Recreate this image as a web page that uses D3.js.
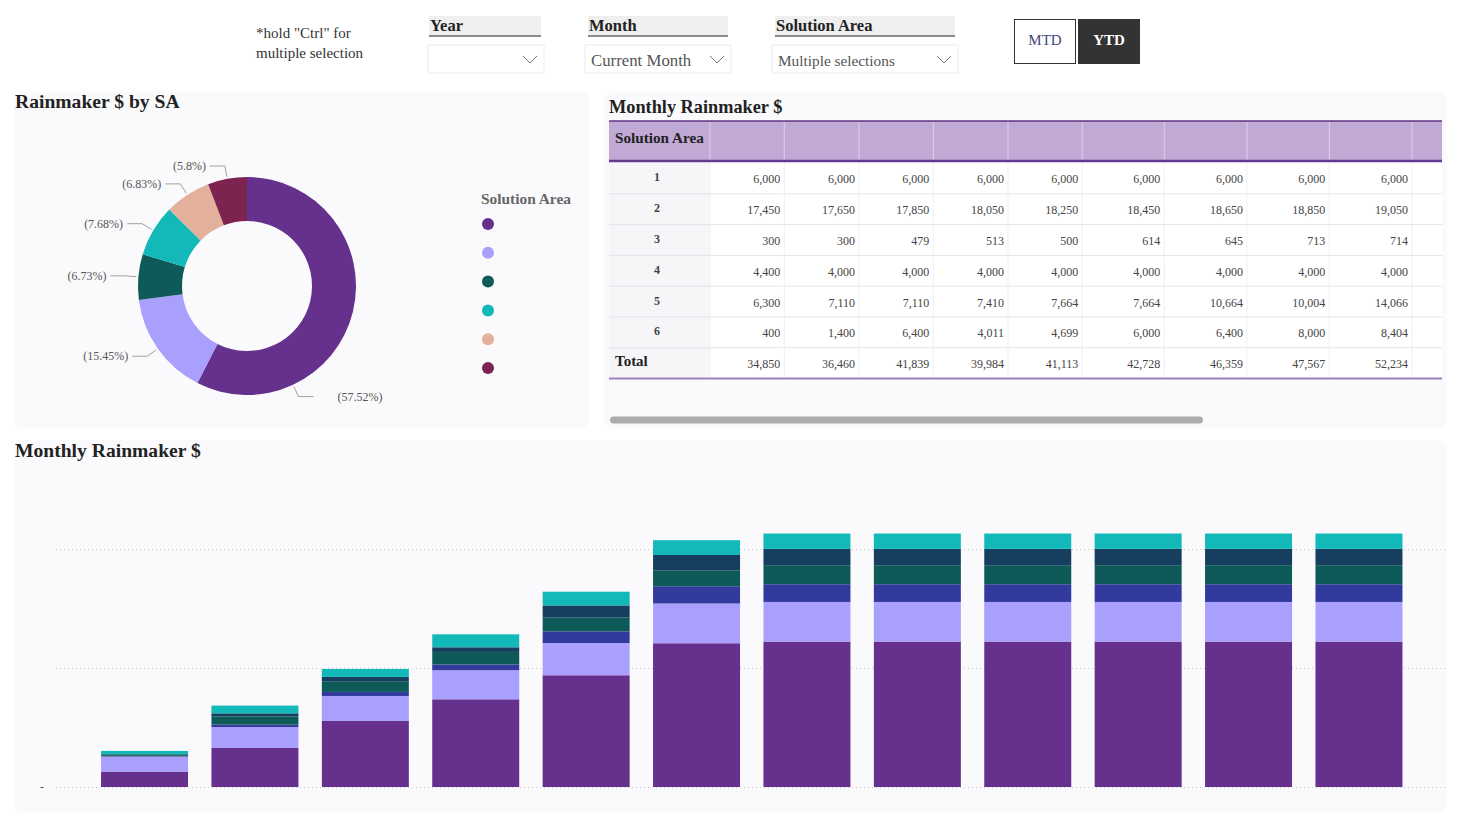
<!DOCTYPE html>
<html>
<head>
<meta charset="utf-8">
<script src="https://cdn.jsdelivr.net/npm/d3@7"></script>
<style>
  body { margin: 0; background: #fff; }
  svg text { font-family: "Liberation Serif", "DejaVu Serif", serif; }
</style>
</head>
<body>
<div id="chart"></div>
<script>
// ---- data ----
var donutShares = [57.52, 15.45, 6.73, 7.68, 6.83, 5.8];
var donutColors = ["#65318c", "#a99ffc", "#0e5a58", "#13b8b8", "#e3b09c", "#7d2350"];

var tableRowLabels = ["1", "2", "3", "4", "5", "6"];
var sa1 = [6000, 6000, 6000, 6000, 6000, 6000, 6000, 6000, 6000];
var sa2 = [17450, 17650, 17850, 18050, 18250, 18450, 18650, 18850, 19050];
var sa3 = [300, 300, 479, 513, 500, 614, 645, 713, 714];
var sa4 = [4400, 4000, 4000, 4000, 4000, 4000, 4000, 4000, 4000];
var sa5 = [6300, 7110, 7110, 7410, 7664, 7664, 10664, 10004, 14066];
var sa6 = [400, 1400, 6400, 4011, 4699, 6000, 6400, 8000, 8404];

// stacked YTD bars (no axis labels in the source, units are relative)
var months = ["1", "2", "3", "4", "5", "6", "7", "8", "9", "10", "11", "12"];
var barSA1 = [12.9, 32.8, 55.5, 73.7, 93.9, 120.8, 122.2, 122.2, 122.2, 122.2, 122.2, 122.2];
var barSA2 = [12.6, 17.6, 21.0, 24.4, 27.1, 33.4, 33.3, 33.3, 33.3, 33.3, 33.3, 33.3];
var barSA3 = [0.3, 2.0, 3.4, 4.8, 9.8, 14.5, 14.9, 14.9, 14.9, 14.9, 14.9, 14.9];
var barSA4 = [1.0, 7.0, 9.0, 10.6, 11.5, 13.4, 16.0, 16.0, 16.0, 16.0, 16.0, 16.0];
var barSA5 = [0.7, 2.5, 3.6, 3.9, 10.3, 12.9, 13.7, 13.7, 13.7, 13.7, 13.7, 13.7];
var barSA6 = [2.8, 6.5, 6.7, 10.9, 11.5, 12.4, 12.9, 12.9, 12.9, 12.9, 12.9, 12.9];
var barColors = ["#65318c", "#a99ffc", "#333a9e", "#0e5a58", "#163f5f", "#13b8b8"];
var yTicks = [0, 100, 200];
var yTickLabels = ["-", "", ""];

var W = 1460, H = 827;
var svg = d3.select("#chart").append("svg")
  .attr("width", W).attr("height", H);

// ---- panels ----
svg.append("rect").attr("x", 14).attr("y", 92).attr("width", 575).attr("height", 336)
  .attr("rx", 8).attr("fill", "#fafafc");
svg.append("rect").attr("x", 604).attr("y", 92).attr("width", 843).attr("height", 336)
  .attr("rx", 8).attr("fill", "#fafafc");
svg.append("rect").attr("x", 14).attr("y", 440).attr("width", 1433).attr("height", 372)
  .attr("rx", 8).attr("fill", "#fafafc");

// ---- slicers on top ----
svg.append("text").attr("x", 256).attr("y", 38).style("font-size", "15px").attr("fill", "#333")
  .text('*hold "Ctrl" for');
svg.append("text").attr("x", 256).attr("y", 58).style("font-size", "15px").attr("fill", "#333")
  .text("multiple selection");

var slicers = [
  {title: "Year", hx: 429, hw: 112, bx: 428, bw: 116, value: "", fs: 16.8},
  {title: "Month", hx: 588, hw: 140, bx: 585, bw: 146, value: "Current Month", fs: 16.8},
  {title: "Solution Area", hx: 775, hw: 180, bx: 772, bw: 186, value: "Multiple selections", fs: 15.3}
];
var sl = svg.selectAll(".slicer").data(slicers).enter().append("g").attr("class", "slicer");
sl.append("rect").attr("x", d => d.hx).attr("y", 16).attr("width", d => d.hw).attr("height", 19)
  .attr("fill", "#efefef");
sl.append("line").attr("x1", d => d.hx).attr("x2", d => d.hx + d.hw).attr("y1", 36).attr("y2", 36)
  .attr("stroke", "#666").attr("stroke-width", 1.5);
sl.append("text").attr("x", d => d.hx + 1).attr("y", 31).style("font-size", "16.5px")
  .style("font-weight", "bold").attr("fill", "#222").text(d => d.title);
sl.append("rect").attr("x", d => d.bx).attr("y", 45).attr("width", d => d.bw).attr("height", 28)
  .attr("fill", "#fff").attr("stroke", "#ececec");
sl.append("text").attr("x", d => d.bx + 6).attr("y", 66).style("font-size", d => d.fs + "px")
  .attr("fill", "#555").text(d => d.value);
sl.append("polyline")
  .attr("points", d => {
    var cx = d.bx + d.bw - 14;
    return (cx - 7) + ",56 " + cx + ",63 " + (cx + 7) + ",56";
  })
  .attr("fill", "none").attr("stroke", "#777").attr("stroke-width", 1);

svg.append("rect").attr("x", 1014.5).attr("y", 19.5).attr("width", 61).attr("height", 44)
  .attr("fill", "#fff").attr("stroke", "#333");
svg.append("text").attr("x", 1045).attr("y", 45).attr("text-anchor", "middle")
  .style("font-size", "15px").attr("fill", "#3d4a7c").text("MTD");
svg.append("rect").attr("x", 1078).attr("y", 19).attr("width", 62).attr("height", 45)
  .attr("fill", "#333");
svg.append("text").attr("x", 1109).attr("y", 45).attr("text-anchor", "middle")
  .style("font-size", "15px").style("font-weight", "bold").attr("fill", "#fff").text("YTD");

// ---- donut ----
svg.append("text").attr("x", 15).attr("y", 108).style("font-size", "19.6px")
  .style("font-weight", "bold").attr("fill", "#222").text("Rainmaker $ by SA");

var cx = 247, cy = 286, rOut = 109, rIn = 65;
var pie = d3.pie().sort(null).value(d => d)(donutShares);
var arc = d3.arc().innerRadius(rIn).outerRadius(rOut);
var dg = svg.append("g").attr("transform", `translate(${cx},${cy})`);
dg.selectAll("path").data(pie).enter().append("path")
  .attr("d", arc).attr("fill", (d, i) => donutColors[i]);

// Power BI pushes the big slice's label to the bottom
var labelAngle = {0: 155 * Math.PI / 180};
pie.forEach(function(d, i) {
  var a = labelAngle[i] !== undefined ? labelAngle[i] : (d.startAngle + d.endAngle) / 2;
  var p0 = [Math.sin(a) * 111, -Math.cos(a) * 111];
  var p1 = [Math.sin(a) * 122, -Math.cos(a) * 122];
  var right = Math.sin(a) > 0;
  var p2 = [p1[0] + (right ? 15 : -15), p1[1]];
  dg.append("polyline")
    .attr("points", [p0, p1, p2].map(p => p.join(",")).join(" "))
    .attr("fill", "none").attr("stroke", "#a0a0a0").attr("stroke-width", 1);
  dg.append("text")
    .attr("x", p2[0] + (right ? 24 : -4)).attr("y", p2[1] + 4)
    .attr("text-anchor", right ? "start" : "end")
    .style("font-size", "12px").attr("fill", "#555")
    .text("(" + d.data + "%)");
});

// legend (names are blank in the source)
svg.append("text").attr("x", 481).attr("y", 204).style("font-size", "15.4px")
  .style("font-weight", "bold").attr("fill", "#666").text("Solution Area");
svg.selectAll(".lg").data(donutColors).enter().append("circle").attr("class", "lg")
  .attr("cx", 488).attr("cy", (d, i) => 224 + i * 28.8).attr("r", 6)
  .attr("fill", d => d);

// ---- matrix table ----
svg.append("text").attr("x", 609).attr("y", 113).style("font-size", "18.3px")
  .style("font-weight", "bold").attr("fill", "#222").text("Monthly Rainmaker $");

var rows = [sa1, sa2, sa3, sa4, sa5, sa6];
var totals = sa1.map((v, j) => d3.sum(rows, r => r[j]));
var colWidths = [74.3, 74.7, 74.3, 74.7, 74.3, 82, 82.7, 82.3, 82.7];
var colEdges = [710];
colWidths.forEach(w => colEdges.push(colEdges[colEdges.length - 1] + w));
var tX0 = 609, tX1 = 1442, hY0 = 121, hY1 = 161, rowH = 30.8;
var rowY = d3.scaleBand().domain(d3.range(7)).range([hY1 + 2, hY1 + 2 + 7 * rowH]);

var tg = svg.append("g");
tg.append("rect").attr("x", tX0).attr("y", hY1).attr("width", tX1 - tX0).attr("height", 7 * rowH + 2)
  .attr("fill", "#fff");
tg.append("rect").attr("x", tX0).attr("y", hY1).attr("width", colEdges[0] - tX0).attr("height", 7 * rowH + 2)
  .attr("fill", "#f6f6f9");
tg.append("rect").attr("x", tX0).attr("y", hY0).attr("width", tX1 - tX0).attr("height", hY1 - hY0)
  .attr("fill", "#c1a9d5");
tg.selectAll(".hsep").data(colEdges).enter().append("line")
  .attr("x1", d => d).attr("x2", d => d).attr("y1", hY0).attr("y2", hY1)
  .attr("stroke", "#dccfe7").attr("stroke-width", 1);
tg.selectAll(".bsep").data(colEdges).enter().append("line")
  .attr("x1", d => d).attr("x2", d => d).attr("y1", hY1).attr("y2", hY1 + 7 * rowH)
  .attr("stroke", "#f1f1f3").attr("stroke-width", 1);
tg.append("line").attr("x1", tX0).attr("x2", tX1).attr("y1", hY0).attr("y2", hY0)
  .attr("stroke", "#5e3386").attr("stroke-width", 1.5);
tg.append("line").attr("x1", tX0).attr("x2", tX1).attr("y1", hY1).attr("y2", hY1)
  .attr("stroke", "#65398f").attr("stroke-width", 2.5);
tg.append("text").attr("x", 615).attr("y", 143).style("font-size", "15.2px")
  .style("font-weight", "bold").attr("fill", "#222").text("Solution Area");

tg.selectAll(".rsep").data(d3.range(1, 7)).enter().append("line")
  .attr("x1", tX0).attr("x2", tX1).attr("y1", d => rowY(d)).attr("y2", d => rowY(d))
  .attr("stroke", "#e4e4e8").attr("stroke-width", 1);
tg.append("line").attr("x1", tX0).attr("x2", tX1)
  .attr("y1", rowY(6) + rowY.bandwidth()).attr("y2", rowY(6) + rowY.bandwidth())
  .attr("stroke", "#9c82bd").attr("stroke-width", 2);

var fmt = d3.format(",");
var allRows = rows.concat([totals]);
allRows.forEach(function(r, i) {
  var y = rowY(i) + rowY.bandwidth() / 2;
  if (i < 6) {
    tg.append("text").attr("x", 657).attr("y", y + 3).attr("text-anchor", "middle")
      .style("font-size", "12px").style("font-weight", "bold").attr("fill", "#444")
      .text(tableRowLabels[i]);
  } else {
    tg.append("text").attr("x", 615).attr("y", y + 3).style("font-size", "15px")
      .style("font-weight", "bold").attr("fill", "#222").text("Total");
  }
  tg.selectAll(".c" + i).data(r).enter().append("text")
    .attr("x", (d, j) => colEdges[j + 1] - 4).attr("y", y + 5)
    .attr("text-anchor", "end").style("font-size", "12px").attr("fill", "#444")
    .text(d => fmt(d));
});

// horizontal scrollbar
svg.append("rect").attr("x", 610).attr("y", 416.5).attr("width", 593).attr("height", 7)
  .attr("rx", 3.5).attr("fill", "#ababab");

// ---- stacked bars ----
svg.append("text").attr("x", 15).attr("y", 457).style("font-size", "19.6px")
  .style("font-weight", "bold").attr("fill", "#222").text("Monthly Rainmaker $");

var barSeries = [barSA1, barSA2, barSA3, barSA4, barSA5, barSA6];
var barData = months.map((m, i) => {
  var o = {month: m};
  barSeries.forEach((s, k) => { o["s" + k] = s[i]; });
  return o;
});
var keys = barSeries.map((s, k) => "s" + k);
var stacked = d3.stack().keys(keys)(barData);

var x = d3.scaleBand().domain(months).range([90, 1413.5])
  .paddingInner(0.212).paddingOuter(0.1);
var y = d3.scaleLinear().domain([0, 200]).range([787, 549]);

var yAxis = d3.axisLeft(y).tickValues(yTicks)
  .tickSize(-(1447 - 56)).tickFormat((d, i) => yTickLabels[i]);
var ga = svg.append("g").attr("transform", "translate(56,0)").call(yAxis);
ga.select(".domain").remove();
ga.selectAll(".tick line").attr("stroke", "#c8c8c8").attr("stroke-dasharray", "1,3");
ga.selectAll(".tick text").attr("x", -12).style("font-size", "12px").attr("fill", "#555")
  .style("font-family", "'Liberation Serif', serif");

svg.append("g").selectAll("g").data(stacked).enter().append("g")
  .attr("fill", (d, k) => barColors[k])
  .selectAll("rect").data(d => d).enter().append("rect")
  .attr("x", d => x(d.data.month))
  .attr("y", d => y(d[1]))
  .attr("height", d => y(d[0]) - y(d[1]))
  .attr("width", x.bandwidth());
</script>
</body>
</html>
